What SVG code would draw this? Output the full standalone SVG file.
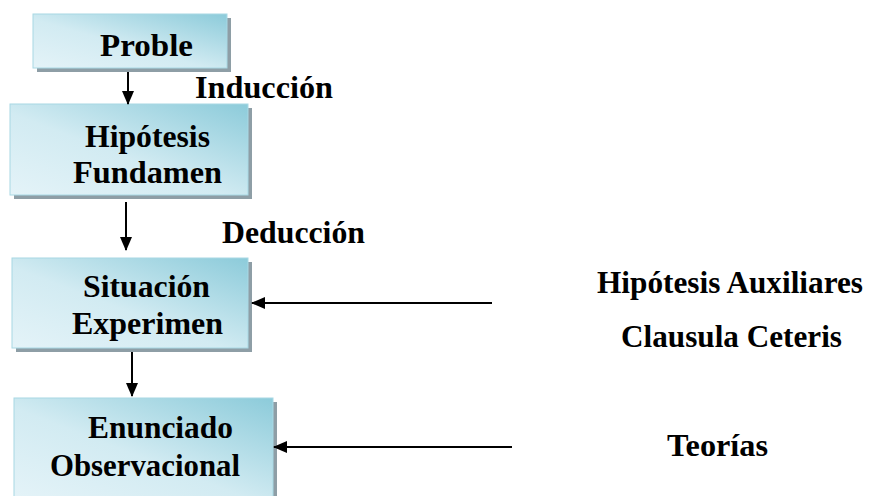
<svg xmlns="http://www.w3.org/2000/svg" width="874" height="496" viewBox="0 0 874 496">
<defs>
<linearGradient id="g" x1="0" y1="1" x2="1" y2="0">
<stop offset="0" stop-color="#E4F3F8"/>
<stop offset="0.45" stop-color="#D2EBF2"/>
<stop offset="1" stop-color="#8CCBDA"/>
</linearGradient>
<marker id="ah" markerWidth="14" markerHeight="12" refX="13" refY="6" orient="auto" markerUnits="userSpaceOnUse">
<path d="M0,0 L14,6 L0,12 Z" fill="#000"/>
</marker>
<style>
.sh{fill:#8E9EA6}
.bx{fill:url(#g);stroke:#A8D8E4;stroke-width:1}
.t{font-family:"Liberation Serif","Times New Roman",serif;font-weight:bold;font-size:32px;fill:#000}
.ln{stroke:#000;stroke-width:2;fill:none;marker-end:url(#ah)}
</style>
</defs>
<rect width="874" height="496" fill="#fff"/>
<g id="n1">
<rect class="sh" x="37" y="18" width="194" height="54"/>
<rect class="bx" x="33" y="14" width="194" height="54"/>
<text class="t" x="100" y="56" textLength="93" lengthAdjust="spacingAndGlyphs">Proble</text>
</g>
<g id="n2">
<rect class="sh" x="14" y="108" width="238" height="91"/>
<rect class="bx" x="10" y="104" width="238" height="91"/>
<text class="t" x="85" y="147" textLength="125" lengthAdjust="spacingAndGlyphs">Hipótesis</text>
<text class="t" x="73" y="183" textLength="149" lengthAdjust="spacingAndGlyphs">Fundamen</text>
</g>
<g id="n3">
<rect class="sh" x="16" y="262" width="236" height="90"/>
<rect class="bx" x="12" y="258" width="236" height="90"/>
<text class="t" x="83" y="297" textLength="127" lengthAdjust="spacingAndGlyphs">Situación</text>
<text class="t" x="72" y="334" textLength="151" lengthAdjust="spacingAndGlyphs">Experimen</text>
</g>
<g id="n4">
<rect class="sh" x="18" y="402" width="259" height="100"/>
<rect class="bx" x="14" y="398" width="259" height="100"/>
<text class="t" x="88" y="438" textLength="145" lengthAdjust="spacingAndGlyphs">Enunciado</text>
<text class="t" x="50" y="476" textLength="190" lengthAdjust="spacingAndGlyphs">Observacional</text>
</g>
<g id="labels">
<text class="t" x="195" y="98" textLength="138" lengthAdjust="spacingAndGlyphs">Inducción</text>
<text class="t" x="222" y="243" textLength="143" lengthAdjust="spacingAndGlyphs">Deducción</text>
<text class="t" x="597" y="293" textLength="266" lengthAdjust="spacingAndGlyphs">Hipótesis Auxiliares</text>
<text class="t" x="621" y="347" textLength="221" lengthAdjust="spacingAndGlyphs">Clausula Ceteris</text>
<text class="t" x="667" y="456" textLength="101" lengthAdjust="spacingAndGlyphs">Teorías</text>
</g>
<g id="connectors">
<line class="ln" x1="128" y1="72" x2="128" y2="104"/>
<line class="ln" x1="126" y1="202" x2="126" y2="250"/>
<line class="ln" x1="132" y1="352" x2="132" y2="396"/>
<line class="ln" x1="492" y1="303" x2="252" y2="303"/>
<line class="ln" x1="512" y1="447" x2="274" y2="447"/>
</g>
</svg>
